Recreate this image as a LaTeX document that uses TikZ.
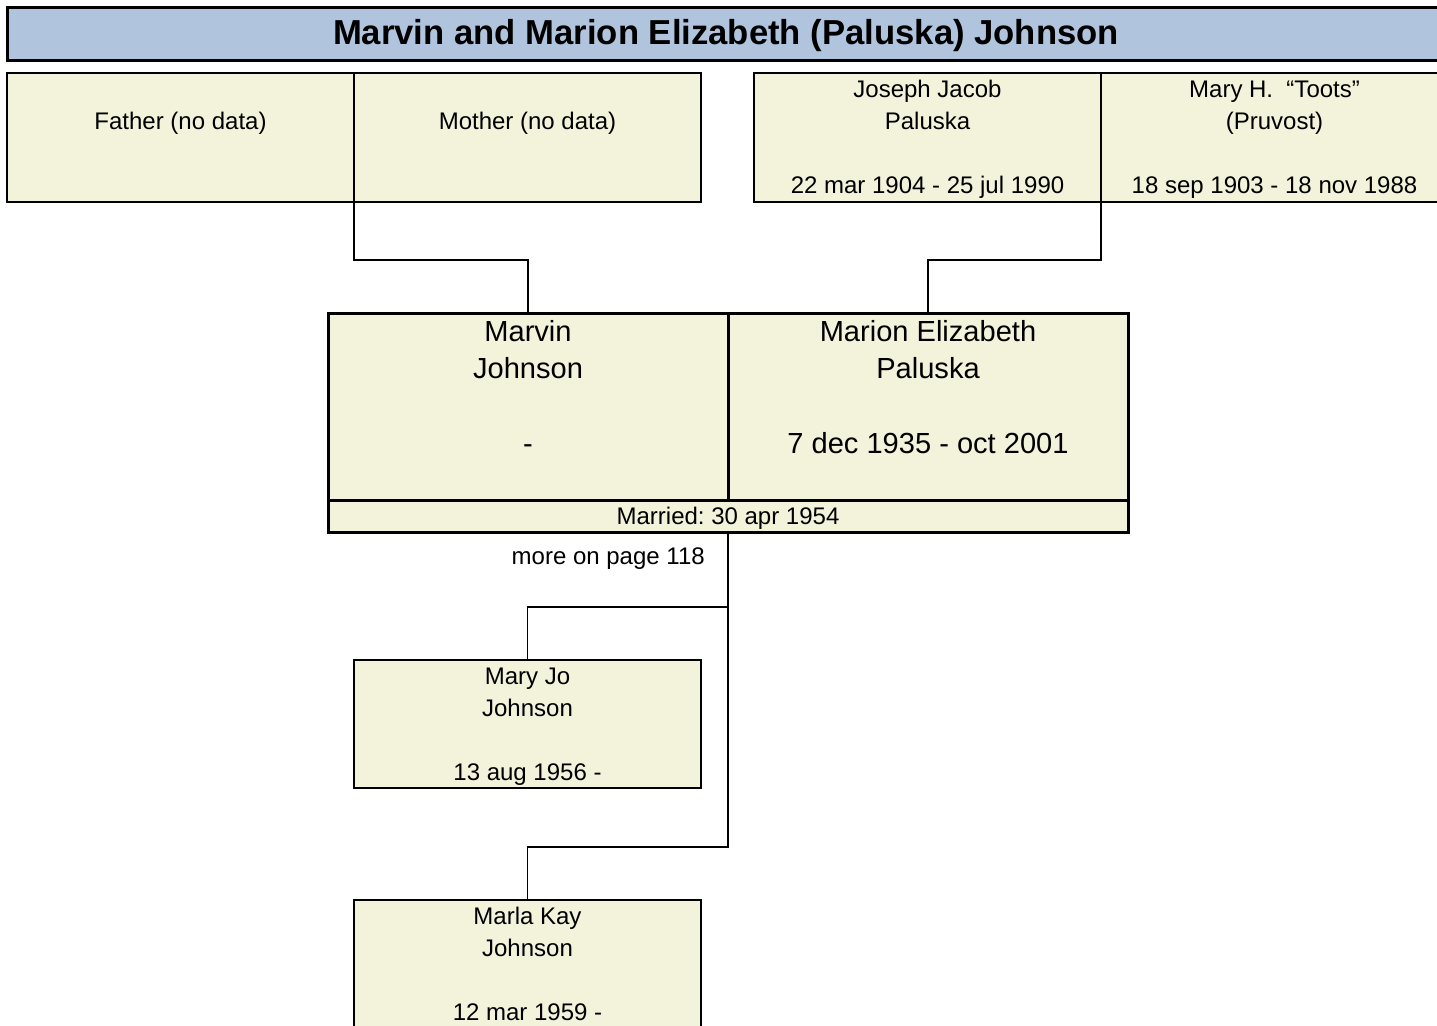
\documentclass[tikz,border=0pt]{standalone}
\usepackage{fontspec}
\setmainfont{Liberation Sans}
\usepackage{tikz}
\usetikzlibrary{positioning}
\frenchspacing
\definecolor{boxfill}{RGB}{243,243,219}
\definecolor{titlefill}{RGB}{176,196,222}
\tikzstyle{title}=[%
      rectangle, draw=black, line width=2.25pt, fill=titlefill,
      inner sep=0pt, outer sep=0pt, minimum width=1078.5pt, minimum height=39.75pt,
      text height=22.5pt, text depth=6pt,
      font=\fontsize{26}{30}\selectfont\bfseries
]
\tikzstyle{person}=[%
      rectangle, draw=black, line width=1.1pt, fill=boxfill,
      inner sep=0pt, outer sep=0pt, minimum width=260.25pt, minimum height=96.75pt
]
\tikzstyle{spouse}=[%
      rectangle, draw=black, line width=2.25pt, fill=boxfill,
      inner sep=0pt, outer sep=0pt, minimum width=300pt, minimum height=140.25pt
]
\tikzstyle{mstrip}=[%
      rectangle, draw=black, line width=2.25pt, fill=boxfill,
      inner sep=0pt, outer sep=0pt, minimum width=600pt, minimum height=24pt,
      text height=16.3pt, text depth=4pt,
      font=\fontsize{18}{24}\selectfont
]
\tikzstyle{info}=[inner sep=0pt, align=center, font=\fontsize{18}{24}\selectfont]
\tikzstyle{biginfo}=[inner sep=0pt, align=center, font=\fontsize{21.8}{28}\selectfont]
\tikzstyle{link}=[draw=black, line width=1.3pt]

\begin{document}
\begin{tikzpicture}[x=0.75pt, y=-0.75pt]
    \useasboundingbox (0,0) rectangle (1437,1025);

    \node[title] (banner) at (726,33.5) {Marvin and Marion Elizabeth (Paluska) Johnson};

    % grandparents
    \node[person] (father) at (180.5,137.5) {};
    \node[person] (mother) [right = 0pt of father] {};
    \node[person] (joseph) [right = 39.75pt of mother] {};
    \node[person] (maryh)  [right = 0pt of joseph] {};

    \node[info] (fatherT) [below = 25.25pt of father.north] {\strut Father (no data)};
    \node[info] (motherT) [below = 25.25pt of mother.north] {\strut Mother (no data)};
    \node[info] (josephT) [below = 1.25pt of joseph.north] {\strut Joseph Jacob\\Paluska\\\mbox{}\\22 mar 1904 - 25 jul 1990};
    \node[info] (maryhT)  [below = 1.25pt of maryh.north] {\strut Mary H.\ \ “Toots”\\(Pruvost)\\\mbox{}\\18 sep 1903 - 18 nov 1988};

    % couple
    \node[spouse] (marvin) at (528,406.5) {};
    \node[spouse] (marion) [right = 0pt of marvin] {};
    \node[mstrip] (married) [below = 0pt of marvin.south east] {Married: 30 apr 1954};

    \node[biginfo] (marvinT) [below = 1.25pt of marvin.north] {\strut Marvin\\Johnson\\\mbox{}\\-};
    \node[biginfo] (marionT) [below = 1.25pt of marion.north] {\strut Marion Elizabeth\\Paluska\\\mbox{}\\7 dec 1935 - oct 2001};

    \node[info, anchor=east] (morepage) at (705,559) {more on page 118};

    % children
    \node[person, minimum height=96pt] (maryjo) at (527.5,724) {};
    \node[person, minimum height=96pt] (marla)  [below = 84pt of maryjo] {};

    \node[info] (maryjoT) [below = 1.25pt of maryjo.north] {\strut Mary Jo\\Johnson\\\mbox{}\\13 aug 1956 -};
    \node[info] (marlaT)  [below = 1.25pt of marla.north] {\strut Marla Kay\\Johnson\\\mbox{}\\12 mar 1959 -};

    \draw[link] (father.south east) -- ++(0,58) -| (marvin.north);
    \draw[link] (joseph.south east) -- ++(0,58) -| (marion.north);
    \draw[link] (married.south) -- ++(0,75) -| (maryjo.north);
    \draw[link] (married.south) -- ++(0,315) -| (marla.north);
\end{tikzpicture}
\end{document}
